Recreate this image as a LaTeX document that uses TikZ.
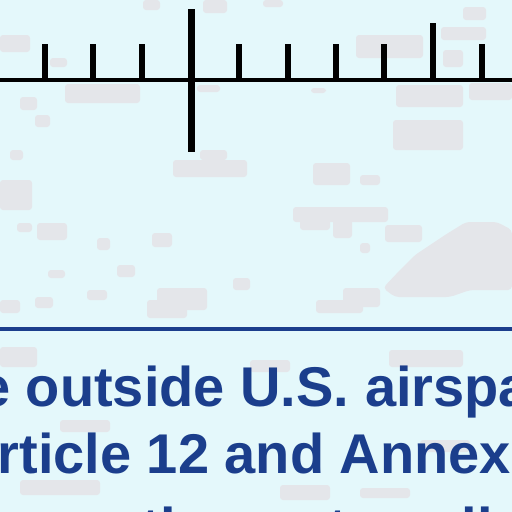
\documentclass[tikz,border=0pt]{standalone}
\usepackage{fontspec}
\setmainfont{Liberation Sans}
\definecolor{bgc}{HTML}{E4F8FB}
\definecolor{blob}{HTML}{E4E6EA}
\definecolor{navy}{HTML}{1B3E8C}
\tikzset{
  blobshape/.style={fill=blob, rounded corners=3pt},
  tickline/.style={line width=5.5pt, black},
  axisline/.style={line width=4.5pt, black},
  rulerline/.style={line width=3.5pt, navy},
  captext/.style={anchor=base west, inner sep=0pt, text=navy, font=\bfseries\fontsize{56}{56}\selectfont}
}
\begin{document}
\begin{tikzpicture}[x=1pt,y=-1pt]
\useasboundingbox (0,0) rectangle (512,512);
\clip (0,0) rectangle (512,512);
\fill[bgc] (0,0) rectangle (512,512);
% grey blotches
\foreach \a/\b/\c/\d in {0/35/30/52, 50/58/67/67, 65/84/140/103, 20/97/37/110, 35/115/50/127,
  143/0/160/10, 203/0/227/13, 197/85/220/92, 10/150/23/160, 200/150/227/160,
  263/0/283/7, 463/7/486/20, 356/35/423/58, 441/27/486/40, 443/50/463/67,
  469/83/512/100, 396/85/463/107, 393/120/463/150, 311/88/326/93,
  173/160/247/177, 313/163/350/185, 360/175/380/185, 0/180/32/210,
  37/223/67/240, 17/223/32/232, 97/238/110/250, 152/233/172/247,
  293/207/388/222, 333/215/352/238, 300/215/330/230, 385/225/422/242, 360/243/370/253,
  117/265/135/277, 233/278/250/290, 87/290/107/300, 35/297/53/308, 48/270/65/278,
  157/288/207/310, 343/288/380/307, 0/300/20/313, 147/300/187/318, 316/300/363/313,
  0/347/37/367, 389/350/463/367, 60/420/110/432, 250/360/290/372, 420/440/470/452,
  20/480/100/495, 280/485/330/500, 360/488/410/498}
  {\fill[blobshape] (\a,\b) rectangle (\c,\d);}
\fill[blob, rounded corners=4pt] (466,222) -- (497,222) -- (512,230) -- (512,290) -- (470,290)
  -- (450,297) -- (395,297) -- (383,288) -- (400,270) -- (415,255) -- (445,235) -- cycle;
% axis with ticks
\coordinate (L) at (0,80);
\coordinate (R) at (512,80);
\draw[axisline] (L) -- (R);
\foreach \x in {45,93,142,239,288,336,384,482}
  {\coordinate (t\x) at (\x,44); \coordinate (b\x) at (\x,80); \draw[tickline] (t\x) -- (b\x);}
\coordinate (tb) at (433,23); \coordinate (bb) at (433,80);
\draw[tickline] (tb) -- (bb);
\coordinate (ct) at (191,9); \coordinate (cb) at (191,152);
\draw[line width=7pt] (ct) -- (cb);
% blue rule
\coordinate (rl) at (0,329);
\coordinate (rr) at (512,329);
\draw[rulerline] (rl) -- (rr);
% text
\node[captext] (l1) at (-21,406) {e outside U.S. airspace};
\node[captext] (l2) at (-43,473) {Article 12 and Annex};
\node[captext] (l3) at (-64,547) {Convention not applicable};
\end{tikzpicture}
\end{document}
